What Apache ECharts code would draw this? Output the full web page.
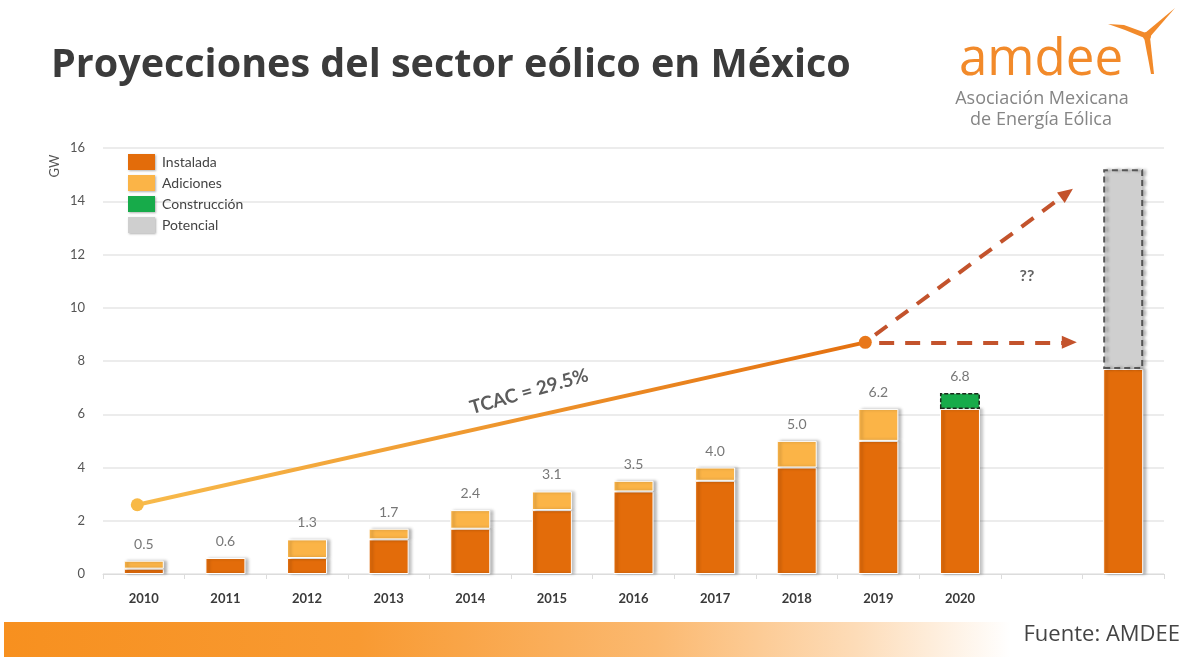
<!DOCTYPE html>
<html>
<head>
<meta charset="utf-8">
<script src="https://cdn.jsdelivr.net/npm/echarts@6/dist/echarts.min.js"></script>
<style>
  html, body { margin: 0; padding: 0; background: #fff; }
  #chart { width: 1188px; height: 657px; }
</style>
</head>
<body>
<div id="chart"></div>
<script>
// Wind capacity in Mexico (GW), by year plus a final projection column
const years        = ['2010','2011','2012','2013','2014','2015','2016','2017','2018','2019','2020','',''];
const instalada    = [0.2, 0.6, 0.6, 1.3, 1.7, 2.4, 3.1, 3.5, 4.0, 5.0, 6.2, null, 7.7];
const adiciones    = [0.3, null, 0.7, 0.4, 0.7, 0.7, 0.4, 0.5, 1.0, 1.2, null, null, null];
const construccion = [null, null, null, null, null, null, null, null, null, null, 0.6, null, null];
const potencial    = [null, null, null, null, null, null, null, null, null, null, null, null, 7.5];
const totales      = [0.5, 0.6, 1.3, 1.7, 2.4, 3.1, 3.5, 4.0, 5.0, 6.2, 6.8, null, null];
const yTicks       = [0, 2, 4, 6, 8, 10, 12, 14, 16];

// Growth trend (x in category units) and the two projected paths after 2019
const tendencia    = [[-0.08, 2.6], [8.84, 8.7]];
const proyecciones = [
  [[9.01, 8.7], [11.34, 8.7]],
  [[8.96, 8.98], [11.31, 14.3]]
];
const tcacLabel    = [[4.72, 6.85, 'TCAC = 29.5%']];
const dudaLabel    = [[10.82, 11.2, '??']];

const C_INST = '#e36c0a';
const C_ADIC = '#fbb447';
const C_CONS = '#17ab4a';
const C_POT  = '#cfcfcf';
const C_PROJ = '#c3532c';

const chart = echarts.init(document.getElementById('chart'), null, { renderer: 'canvas' });

const barShadow = { shadowColor: 'rgba(0,0,0,0.28)', shadowBlur: 3, shadowOffsetX: 3, shadowOffsetY: 0 };

const option = {
  backgroundColor: '#ffffff',
  animation: false,
  textStyle: { fontFamily: 'Lato, "Open Sans", sans-serif' },
  grid: { left: 103, right: 24, top: 148, bottom: 83 },
  legend: {
    orient: 'vertical',
    left: 123,
    top: 149,
    itemWidth: 27,
    itemHeight: 16,
    itemGap: 5,
    selectedMode: false,
    icon: 'rect',
    data: ['Instalada', 'Adiciones', 'Construcción', 'Potencial'],
    itemStyle: { borderWidth: 0, shadowColor: 'rgba(0,0,0,0.3)', shadowBlur: 2, shadowOffsetX: 1, shadowOffsetY: 1 },
    textStyle: { fontSize: 14, color: '#444', fontFamily: 'Lato, sans-serif', padding: [0, 0, 0, 2] }
  },
  xAxis: [
    {
      type: 'category',
      data: years,
      axisLine: { show: true, lineStyle: { color: '#dcdcdc', width: 1 } },
      axisTick: { show: true, length: 5, lineStyle: { color: '#dcdcdc' } },
      axisLabel: { color: '#3a3a3a', fontSize: 13, fontWeight: 'bold', margin: 18, fontFamily: 'Lato, sans-serif' }
    },
    {
      type: 'value',
      min: -0.5,
      max: 12.5,
      show: false
    }
  ],
  yAxis: {
    type: 'value',
    min: yTicks[0],
    max: yTicks[yTicks.length - 1],
    interval: 2,
    axisLine: { show: false },
    axisTick: { show: false },
    axisLabel: { color: '#555', fontSize: 13, margin: 18, fontFamily: 'Lato, sans-serif' },
    splitLine: { lineStyle: { color: '#e6e6e6', width: 1.5 } }
  },
  graphic: [
    {
      type: 'text', left: 51, top: 46,
      style: { text: 'Proyecciones del sector eólico en México', font: 'bold 39.5px "Open Sans", sans-serif', fill: '#3b3b3b' }
    },
    {
      type: 'text', left: 959, top: 35,
      style: { text: 'amdee', font: 'normal 51px "Open Sans", sans-serif', fill: '#f28a2a' }
    },
    {
      type: 'polygon',
      shape: { points: [[1145, 33], [1149, 38], [1175, 8]] },
      style: { fill: '#f28a2a' }
    },
    {
      type: 'polygon',
      shape: { points: [[1146, 33], [1147, 39], [1125, 30], [1108, 24], [1124, 25]] },
      style: { fill: '#f28a2a' }
    },
    {
      type: 'polygon',
      shape: { points: [[1144, 37], [1150, 37], [1154, 74], [1151, 74]] },
      style: { fill: '#f28a2a' }
    },
    {
      type: 'circle',
      shape: { cx: 1147, cy: 36, r: 4 },
      style: { fill: '#f28a2a' }
    },
    {
      type: 'text', x: 1042, y: 99,
      style: { text: 'Asociación Mexicana', font: '18px "Open Sans", sans-serif', fill: '#858585', align: 'center', verticalAlign: 'middle' }
    },
    {
      type: 'text', x: 1041, y: 120,
      style: { text: 'de Energía Eólica', font: '18px "Open Sans", sans-serif', fill: '#858585', align: 'center', verticalAlign: 'middle' }
    },
    {
      type: 'text', x: 55, y: 166, rotation: Math.PI / 2,
      style: { text: 'GW', font: '13px Lato, sans-serif', fill: '#555', align: 'center', verticalAlign: 'middle' }
    },
    {
      type: 'rect',
      shape: { x: 4, y: 622, width: 1184, height: 35 },
      style: {
        fill: {
          type: 'linear', x: 0, y: 0, x2: 1, y2: 0,
          colorStops: [
            { offset: 0, color: '#f7901f' },
            { offset: 0.3, color: '#f89a32' },
            { offset: 0.55, color: '#fbb970' },
            { offset: 0.72, color: '#fddcb8' },
            { offset: 0.85, color: '#ffffff' },
            { offset: 1, color: '#ffffff' }
          ]
        }
      }
    },
    {
      type: 'text', right: 8, top: 624,
      style: { text: 'Fuente: AMDEE', font: '22px "Open Sans", sans-serif', fill: '#444' }
    }
  ],
  series: [
    {
      name: 'Instalada', type: 'bar', stack: 'gw', barWidth: 40, data: instalada,
      itemStyle: Object.assign({ color: C_INST, borderColor: '#ffffff', borderWidth: 1 }, barShadow)
    },
    {
      name: 'Adiciones', type: 'bar', stack: 'gw', barWidth: 40, data: adiciones,
      itemStyle: Object.assign({ color: C_ADIC, borderColor: '#ffffff', borderWidth: 1 }, barShadow)
    },
    {
      name: 'Construcción', type: 'bar', stack: 'gw', barWidth: 40, data: construccion,
      itemStyle: { color: C_CONS, borderColor: '#1d2a1d', borderWidth: 1.5, borderType: [4, 2] }
    },
    {
      name: 'Potencial', type: 'bar', stack: 'gw', barWidth: 40, data: potencial,
      itemStyle: Object.assign({ color: C_POT, borderColor: '#555555', borderWidth: 2, borderType: [6, 4] }, barShadow)
    },
    {
      // value labels above each year's total
      name: 'totales', type: 'scatter', data: totales,
      symbolSize: 1, silent: true,
      itemStyle: { color: 'rgba(0,0,0,0)' },
      label: {
        show: true, position: 'top', distance: 9,
        color: '#555', fontSize: 14, fontFamily: 'Lato, sans-serif',
        formatter: p => (p.value == null ? '' : Number(p.value).toFixed(1))
      }
    },
    {
      name: 'tendencia', type: 'line', xAxisIndex: 1, data: tendencia,
      symbol: 'circle', symbolSize: 13, silent: true, z: 5,
      lineStyle: {
        width: 4,
        color: {
          type: 'linear', x: 0, y: 0, x2: 1, y2: 0,
          colorStops: [{ offset: 0, color: '#f8bb4c' }, { offset: 1, color: '#e4700f' }]
        }
      },
      itemStyle: {
        color: p => (p.dataIndex === 0 ? '#f8b946' : '#e8771a')
      },
      markLine: {
        silent: true,
        symbol: ['none', 'triangle'],
        symbolSize: [13, 15],
        label: { show: false },
        lineStyle: { color: C_PROJ, width: 4, type: [15, 11] },
        data: proyecciones.map(seg => [{ coord: seg[0] }, { coord: seg[1] }])
      }
    },
    {
      name: 'tcac', type: 'scatter', xAxisIndex: 1, data: tcacLabel,
      symbolSize: 1, silent: true, itemStyle: { color: 'rgba(0,0,0,0)' },
      label: {
        show: true, position: 'inside', rotate: 16,
        formatter: p => p.value[2],
        color: '#333', fontSize: 19, fontWeight: 'bold', fontFamily: 'Lato, sans-serif'
      }
    },
    {
      name: 'duda', type: 'scatter', xAxisIndex: 1, data: dudaLabel,
      symbolSize: 1, silent: true, itemStyle: { color: 'rgba(0,0,0,0)' },
      label: {
        show: true, position: 'inside',
        formatter: p => p.value[2],
        color: '#3a3a3a', fontSize: 16, fontWeight: 'bold', fontFamily: 'Lato, sans-serif'
      }
    }
  ]
};

chart.setOption(option);
</script>
</body>
</html>
